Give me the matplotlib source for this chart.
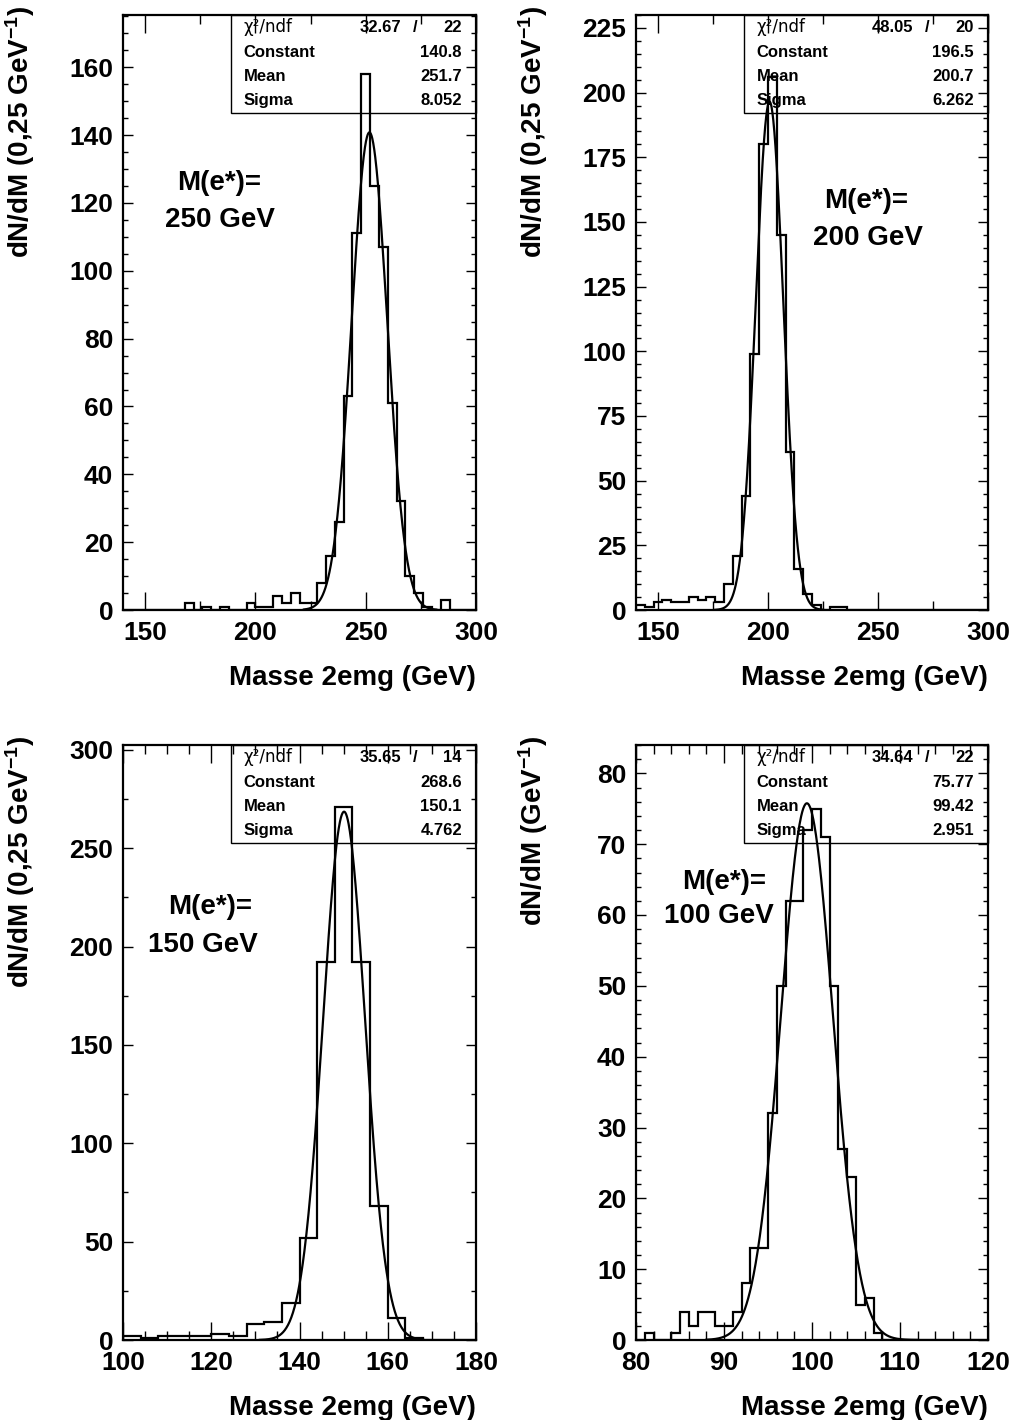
"""Masse 2emg spectra for four e* mass hypotheses, with gaussian fits."""
import matplotlib

matplotlib.use("Agg")
import matplotlib.pyplot as plt
import numpy as np
from matplotlib.patches import Rectangle
from matplotlib.ticker import MultipleLocator

# entries per bin
COUNTS_250 = [0, 0, 0, 0, 0, 0, 0, 2, 0, 1, 0, 1, 0, 0, 2, 1, 1, 4, 2, 5,
              2, 2, 8, 16, 26, 63, 111, 158, 125, 107, 61, 32, 10, 5, 1, 0, 3, 0, 0, 0]
COUNTS_200 = [2, 1, 3, 4, 3, 3, 5, 4, 5, 3, 10, 21, 44, 99, 180, 206, 145, 61, 16, 6,
              2, 0, 1, 1, 0, 0, 0, 0, 0, 0, 0, 0, 0, 0, 0, 0, 0, 0, 0, 0]
COUNTS_150 = [2, 1, 2, 2, 2, 3, 2, 8, 9, 19, 52, 192, 271, 192, 68, 11, 1, 0, 0, 0]
COUNTS_100 = [0, 1, 0, 0, 1, 4, 2, 4, 4, 2, 2, 4, 8, 13, 13, 32, 50, 62, 62, 72,
              75, 71, 50, 27, 23, 5, 6, 1, 0, 0, 0, 0, 0, 0, 0, 0, 0, 0, 0, 0]

# binning (first edge, last edge, width in GeV)
BINS_250 = (140, 300, 4)
BINS_200 = (140, 300, 4)
BINS_150 = (100, 180, 4)
BINS_100 = (80, 120, 1)

# gaussian fit results: chi2, ndf, Constant, Mean, Sigma
FIT_250 = ("32.67", "22", 140.8, 251.7, 8.052)
FIT_200 = ("48.05", "20", 196.5, 200.7, 6.262)
FIT_150 = ("35.65", "14", 268.6, 150.1, 4.762)
FIT_100 = ("34.64", "22", 75.77, 99.42, 2.951)

# range the fit function is drawn over
FIT_RANGE_250 = (222, 282)
FIT_RANGE_200 = (176, 225)
FIT_RANGE_150 = (131, 168)
FIT_RANGE_100 = (88, 112)

YLABEL_4GEV = "dN/dM (0,25 GeV$^{-1}$)"
YLABEL_1GEV = "dN/dM (GeV$^{-1}$)"
XLABEL = "Masse 2emg (GeV)"

W, H, DPI = 1014, 1420, 100

plt.rcParams["font.family"] = ["Liberation Sans", "DejaVu Sans"]
plt.rcParams["font.weight"] = "bold"
plt.rcParams["axes.labelweight"] = "bold"
plt.rcParams["mathtext.fontset"] = "custom"
plt.rcParams["mathtext.rm"] = "Liberation Sans:bold"
plt.rcParams["mathtext.bf"] = "Liberation Sans:bold"
plt.rcParams["mathtext.default"] = "bf"


def px_axes(fig, left, top, right, bottom):
    return fig.add_axes([left / W, 1 - bottom / H, (right - left) / W, (bottom - top) / H])


def stat_box(ax, fit):
    chi2, ndf, const, mean, sigma = fit
    x0, h = 0.307, 0.164
    ax.add_patch(Rectangle((x0, 1 - h), 1 - x0, h, transform=ax.transAxes,
                           fill=False, lw=1.0, color="black", clip_on=False, zorder=5))
    rows = [("Constant", const), ("Mean", mean), ("Sigma", sigma)]
    ys = [1 - h * f for f in (0.125, 0.38, 0.635, 0.88)]
    kw = dict(transform=ax.transAxes, va="center", fontsize=12)
    ax.text(0.342, ys[0], "\u03c7\u00b2/ndf", fontweight="normal", ha="left",
            family="DejaVu Sans", transform=ax.transAxes, va="center", fontsize=12)
    ax.text(0.787, ys[0], chi2, ha="right", **kw)
    ax.text(0.827, ys[0], "/", ha="center", **kw)
    ax.text(0.96, ys[0], ndf, ha="right", **kw)
    for (name, val), y in zip(rows, ys[1:]):
        ax.text(0.342, y, name, ha="left", **kw)
        ax.text(0.96, y, f"{val:.4g}", ha="right", **kw)


def draw_panel(ax, counts, bins, fit, fit_range, ytop, xmaj, xmin, ymaj, ymin,
               ylabel, mass, text_pos):
    lo, hi, w = bins
    edges = np.arange(lo, hi + w / 2, w)
    ax.stairs(counts, edges, color="black", lw=1.6, zorder=3)

    _, _, const, mean, sigma = fit
    x = np.linspace(*fit_range, 400)
    ax.plot(x, const * np.exp(-0.5 * ((x - mean) / sigma) ** 2), color="black", lw=1.6, zorder=4)

    ax.set_xlim(lo, hi)
    ax.set_ylim(0, ytop)
    ax.xaxis.set_major_locator(MultipleLocator(xmaj))
    ax.xaxis.set_minor_locator(MultipleLocator(xmin))
    ax.yaxis.set_major_locator(MultipleLocator(ymaj))
    ax.yaxis.set_minor_locator(MultipleLocator(ymin))
    ax.tick_params(which="both", direction="in", top=True, right=True, width=1.0,
                   labelsize=19)
    ax.tick_params(axis="x", which="major", length=13, pad=8)
    ax.tick_params(axis="x", which="minor", length=6.5)
    ax.tick_params(axis="y", which="major", length=7.5, pad=7)
    ax.tick_params(axis="y", which="minor", length=3.8)
    for s in ax.spines.values():
        s.set_linewidth(1.6)

    ax.set_xlabel(XLABEL, fontsize=20, fontweight="bold", loc="right")
    ax.xaxis.set_label_coords(1.0, -0.093)
    ax.set_ylabel(ylabel, fontsize=20, fontweight="bold", loc="top")
    ax.yaxis.set_label_coords(-0.243, 1.015)

    (x1, y1), (x2, y2) = text_pos
    ax.text(x1, y1, "M(e*)=", transform=ax.transAxes, ha="center", va="center", fontsize=20)
    ax.text(x2, y2, f"{mass} GeV", transform=ax.transAxes, ha="center", va="center", fontsize=20)

    stat_box(ax, fit)


def main():
    fig = plt.figure(figsize=(W / DPI, H / DPI), dpi=DPI)

    ax = px_axes(fig, 123, 15, 476, 610)
    draw_panel(ax, COUNTS_250, BINS_250, FIT_250, FIT_RANGE_250, 175.4, 50, 25, 20, 5,
               YLABEL_4GEV, 250, ((0.272, 0.718), (0.275, 0.655)))

    ax = px_axes(fig, 636, 15, 988, 610)
    draw_panel(ax, COUNTS_200, BINS_200, FIT_200, FIT_RANGE_200, 230, 50, 25, 25, 5,
               YLABEL_4GEV, 200, ((0.655, 0.688), (0.66, 0.626)))

    ax = px_axes(fig, 123, 745, 476, 1340)
    draw_panel(ax, COUNTS_150, BINS_150, FIT_150, FIT_RANGE_150, 302.5, 20, 5, 50, 25,
               YLABEL_4GEV, 150, ((0.246, 0.728), (0.227, 0.664)))

    ax = px_axes(fig, 636, 745, 988, 1340)
    draw_panel(ax, COUNTS_100, BINS_100, FIT_100, FIT_RANGE_100, 84, 10, 2, 10, 2,
               YLABEL_1GEV, 100, ((0.25, 0.77), (0.235, 0.713)))

    fig.savefig("out.png", dpi=DPI)
    plt.close(fig)


if __name__ == "__main__":
    main()
